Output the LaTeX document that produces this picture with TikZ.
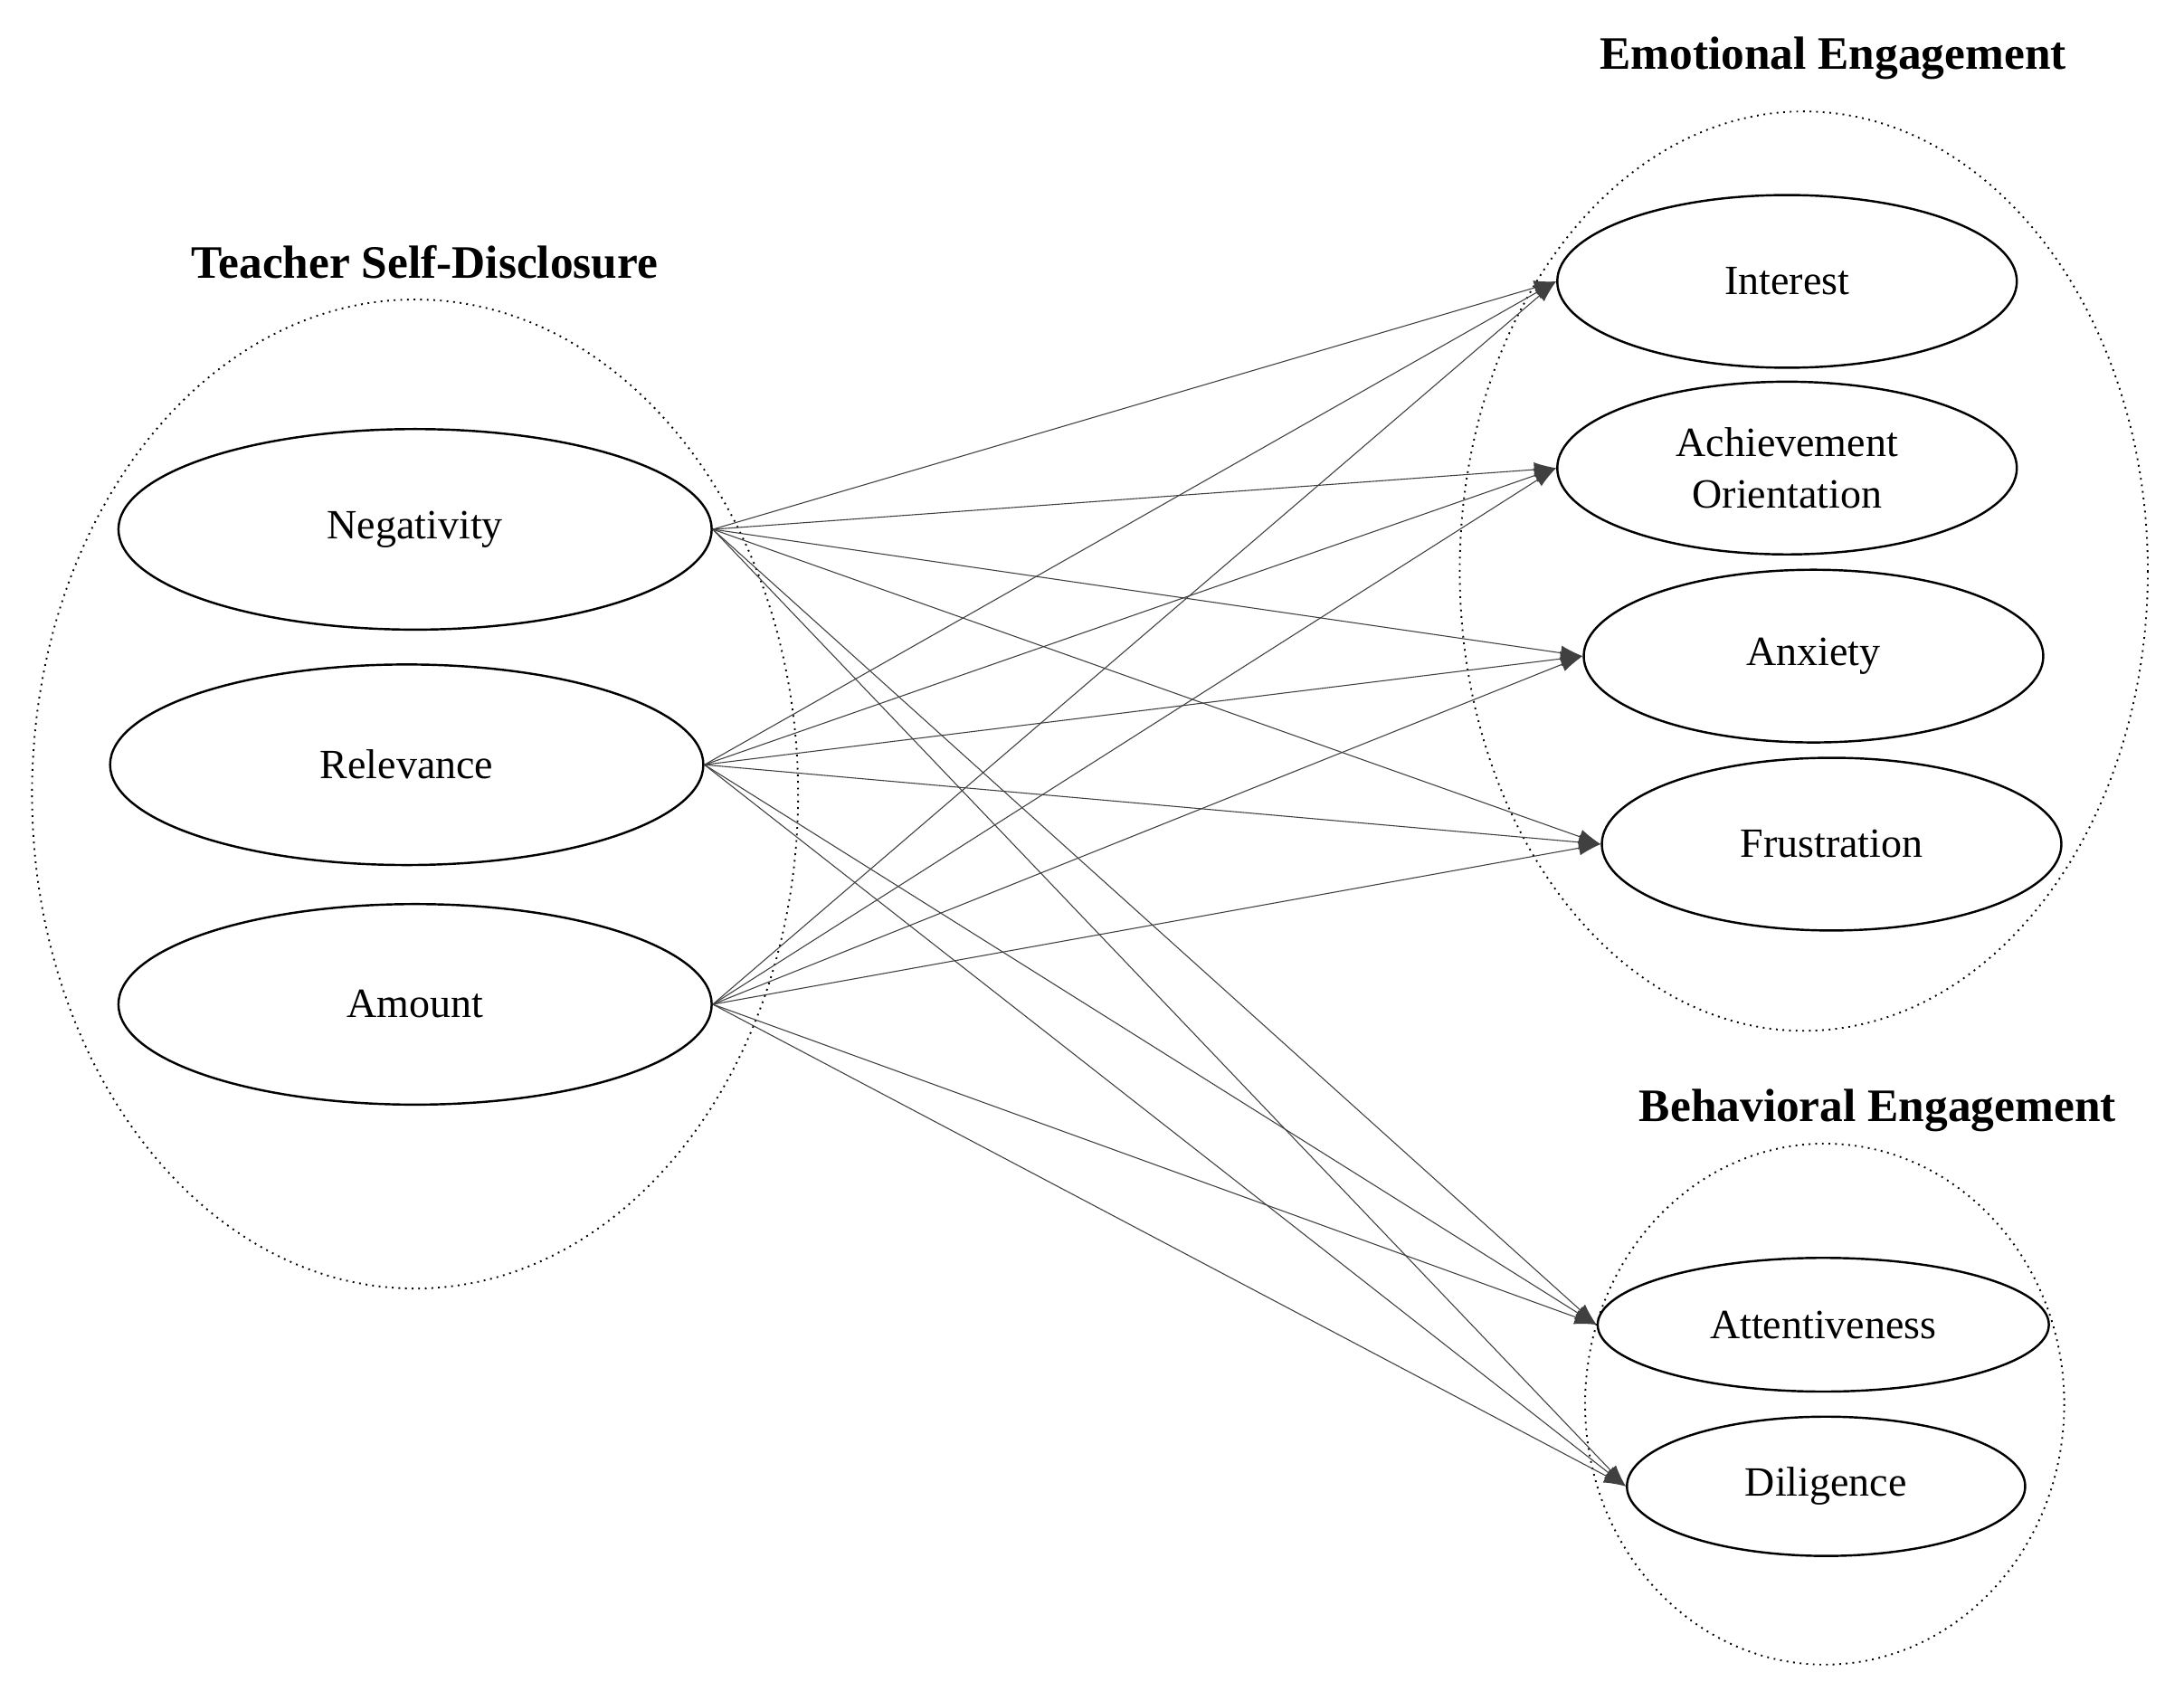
\documentclass[tikz,border=0pt]{standalone}
\usepackage{fontspec}
\setmainfont{Liberation Serif}
\usetikzlibrary{shapes.geometric,arrows.meta}
\begin{document}
\begin{tikzpicture}[x=0.02cm,y=-0.02cm,
  el/.style={draw,ellipse,line width=0.9pt,inner sep=0pt,align=center,font=\fontsize{17}{21}\selectfont},
  grp/.style={draw,dotted,line width=0.7pt},
  ttl/.style={font=\fontsize{19}{22}\selectfont\bfseries},
  arr/.style={-{Latex[length=9pt,width=6pt]},line width=0.4pt,draw=black!75}]
\useasboundingbox (0,0) rectangle (1568,1221);
\draw[grp] (298,570) ellipse [x radius=275, y radius=355];
\draw[grp] (1295,410) ellipse [x radius=247, y radius=330];
\draw[grp] (1310,1008) ellipse [x radius=172, y radius=187];
\node[ttl] at (305,188) {Teacher Self-Disclosure};
\node[ttl] at (1316,42) {Emotional Engagement};
\node[ttl] at (1348,797) {Behavioral Engagement};
\node[el,minimum width=426\pgflinewidth,minimum width=8.52cm,minimum height=2.88cm] (neg) at (298,380) {Negativity};
\node[el,minimum width=8.52cm,minimum height=2.88cm] (rel) at (292,549) {Relevance};
\node[el,minimum width=8.52cm,minimum height=2.88cm] (amt) at (298,721) {Amount};
\node[el,minimum width=6.6cm,minimum height=2.48cm] (int) at (1283,202) {Interest};
\node[el,minimum width=6.6cm,minimum height=2.48cm] (ach) at (1283,336) {Achievement\\Orientation};
\node[el,minimum width=6.6cm,minimum height=2.48cm] (anx) at (1302,471) {Anxiety};
\node[el,minimum width=6.6cm,minimum height=2.48cm] (fru) at (1315,606) {Frustration};
\node[el,minimum width=6.48cm,minimum height=1.92cm] (att) at (1309,951) {Attentiveness};
\node[el,minimum width=5.72cm,minimum height=2.0cm] (dil) at (1311,1067) {Diligence};
\foreach \s in {neg,rel,amt}
  \foreach \t in {int,ach,anx,fru,att,dil}
    \draw[arr] (\s.east) -- (\t.west);
\end{tikzpicture}
\end{document}
